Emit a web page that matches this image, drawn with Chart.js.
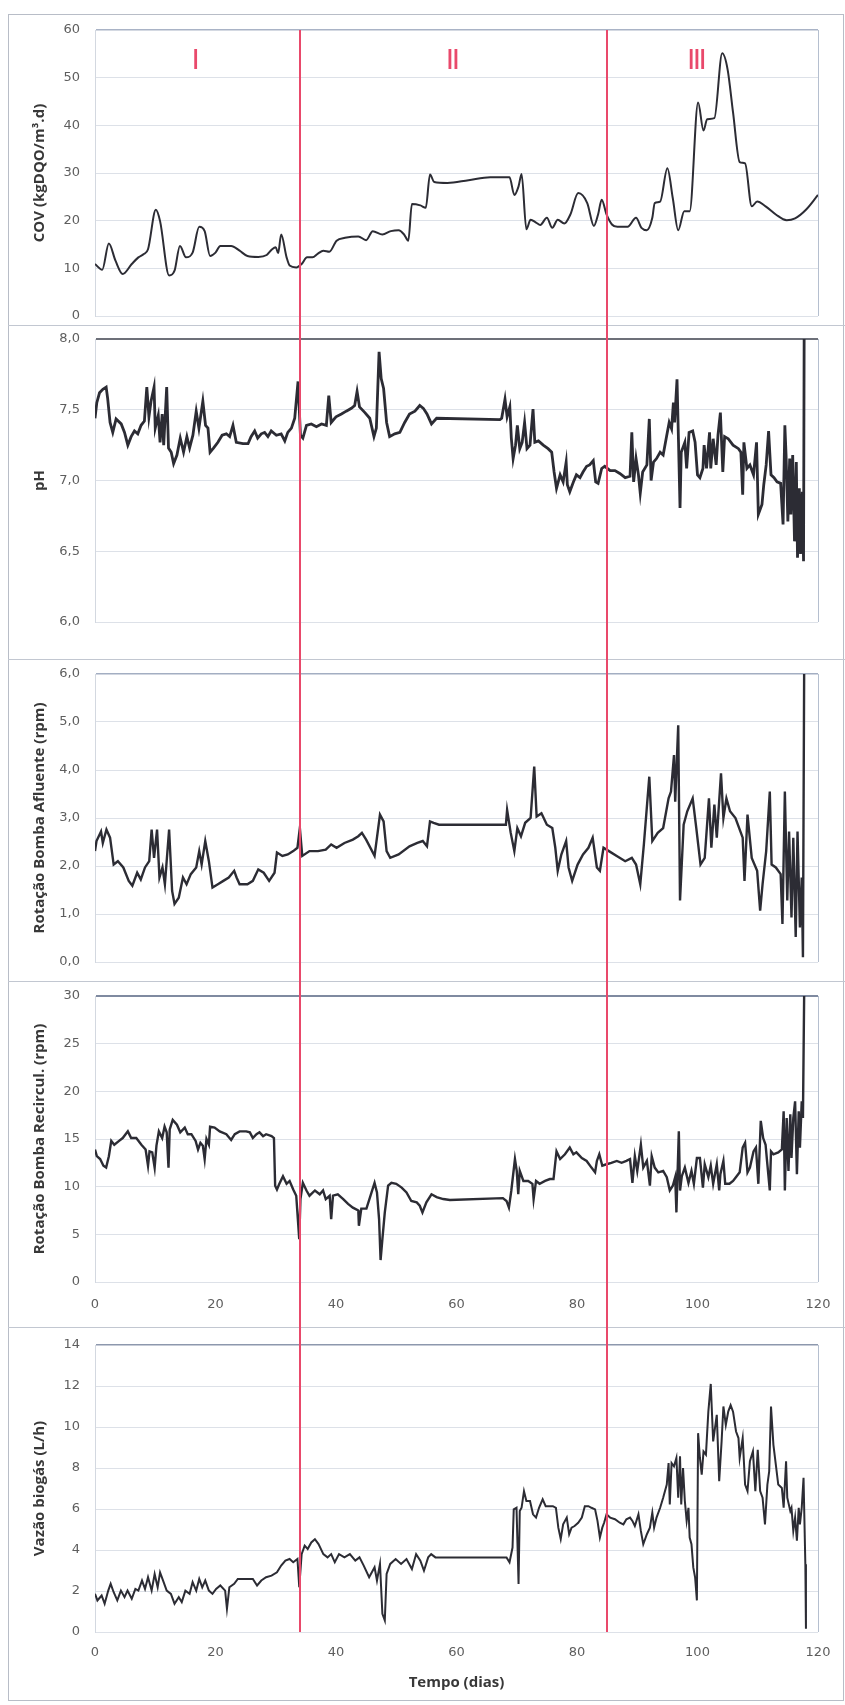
<!DOCTYPE html>
<html><head><meta charset="utf-8">
<script src="https://cdn.jsdelivr.net/npm/chart.js@4.4.0/dist/chart.umd.min.js"></script>
<style>
html,body{margin:0;padding:0;background:#fff;width:845px;height:1705px;overflow:hidden;}
#frame{position:absolute;left:8px;top:14px;width:836px;height:1687px;border:1px solid #b8bdc7;box-sizing:border-box;z-index:0;}
.sep{position:absolute;left:8px;width:837px;height:0;border-top:1px solid #c2c7d1;z-index:0;}
canvas{position:absolute;left:0;z-index:1;}
</style></head><body>
<div id="frame"></div>
<div class="sep" style="top:325px"></div>
<div class="sep" style="top:659px"></div>
<div class="sep" style="top:981px"></div>
<div class="sep" style="top:1327px"></div>
<canvas id="c1" width="845" height="310" style="top:15px"></canvas>
<canvas id="c2" width="845" height="334" style="top:325px"></canvas>
<canvas id="c3" width="845" height="322" style="top:659px"></canvas>
<canvas id="c4" width="845" height="346" style="top:981px"></canvas>
<canvas id="c5" width="845" height="378" style="top:1327px"></canvas>
<script>
// ---------- DATA ----------
const xTickLabels = ['0','20','40','60','80','100','120'];
const phaseBounds = [34, 85];
const phaseNames = ['I','II','III'];
const phaseNameDays = [16.5, 59.2, 99.7];

const covTickLabels = ['0','10','20','30','40','50','60'];
const covDays = [0,1.2,2.3,3.4,4.6,6.1,7.2,8.1,8.8,10.1,10.8,12.3,13.2,14.1,15.1,16.2,17.3,18.2,19.1,20,20.8,22.6,24,25.3,27.1,28.5,29.4,30,30.4,30.9,31.8,32.3,33.4,34.3,35.2,36.1,37,37.9,38.9,40.1,41.5,43.7,45,46.1,47.7,49.1,50.4,51.3,52,52.6,54,54.9,55.6,56.3,58.5,62,65.6,68.8,69.6,70.3,70.8,71.6,72.3,73.2,73.9,75,75.9,76.8,77.9,78.9,80.2,81.7,82.8,83.5,84.1,84.9,85.8,86.7,88.4,89.8,90.7,91.6,92.5,92.9,93.8,95,95.9,96.8,97.8,98.7,100.1,101,101.6,102.8,104.1,105,105.9,107,107.9,109,109.9,111.3,113,114.8,116.2,118,120];
const covVals = [10.9,9.7,15.2,11.6,8.8,10.9,12.3,13,14,22.3,19.9,8.5,9.5,14.7,12.3,13.3,18.7,17.8,12.6,13.3,14.7,14.7,13.7,12.6,12.4,12.8,14,14.4,13.2,17.1,12.3,10.6,10.2,10.9,12.3,12.3,13.1,13.7,13.5,15.8,16.4,16.7,15.9,17.8,17.1,17.8,18,17.1,15.8,23.5,23.2,22.7,29.7,28.1,27.9,28.5,29.1,29.1,25.4,27.2,29.8,18.2,20.2,19.6,19.1,20.6,18.5,20.2,19.4,21.3,25.8,23.7,18.9,21.3,24.4,21.3,19.2,18.7,18.7,20.6,18.5,18,20.6,23.7,24,31,24.7,18,22,22,44.8,38.9,41.3,41.5,55.1,51.7,42.7,32.3,32,23,24,23,21.3,20.1,20.5,22.3,25.4];

const phTickLabels = ['6,0','6,5','7,0','7,5','8,0'];
const phDays = [0,0.3,0.75,1.3,1.85,2.1,2.5,2.95,3.5,4.35,4.9,5.45,6,6.55,7.1,7.65,8.2,8.6,8.95,9.3,9.8,10,10.5,10.8,11.15,11.4,11.9,12.2,12.65,13.05,13.6,14.15,14.7,15.25,15.7,16.25,16.8,17.25,17.9,18.35,18.75,19.1,19.7,20.4,21.1,21.8,22.35,22.9,23.45,24.55,25.4,25.9,26.5,27,27.6,28.15,28.7,29.25,30.1,30.9,31.5,32,32.6,33.15,33.7,34.1,34.5,35.1,35.9,36.75,37.6,38.4,38.8,39.2,40,40.9,41.7,42.55,43.1,43.5,43.9,44.8,45.6,46.3,46.7,47.15,47.5,47.9,48.4,48.9,49.75,50.6,51.4,52.2,53.1,53.9,54.5,55.1,55.85,56.7,67.2,67.5,68.05,68.4,68.85,69.1,69.4,69.8,70.1,70.5,70.9,71.3,71.7,72.2,72.7,73,73.6,74.4,75.2,75.8,76.2,76.6,77.2,77.7,78.2,78.4,78.8,79.4,79.9,80.5,81,81.6,82.1,82.7,83.1,83.5,84.1,84.6,85.5,86.3,87.1,88,88.8,89.1,89.4,89.8,90.2,90.5,90.9,91.6,92,92.3,92.7,93.2,93.8,94.3,94.9,95.3,95.7,96,96.2,96.6,96.85,97.1,97.3,97.9,98.2,98.6,99.2,99.6,100,100.4,100.9,101.1,101.5,102,102.2,102.6,103.1,103.4,103.8,104.2,104.5,105.1,105.9,106.8,107.2,107.5,107.7,108.2,108.7,109.3,109.8,110.1,110.7,111,111.4,111.8,112.2,112.7,113.2,113.8,114.2,114.5,114.7,115,115.3,115.5,115.8,116.1,116.4,116.6,116.9,117.1,117.4,117.6,117.7];
const phVals = [7.44,7.55,7.62,7.645,7.66,7.58,7.41,7.34,7.435,7.40,7.34,7.25,7.31,7.35,7.33,7.39,7.42,7.66,7.45,7.56,7.66,7.37,7.46,7.27,7.47,7.25,7.66,7.23,7.20,7.12,7.18,7.30,7.20,7.31,7.23,7.32,7.49,7.37,7.56,7.39,7.37,7.20,7.23,7.27,7.32,7.33,7.31,7.39,7.27,7.26,7.26,7.31,7.35,7.30,7.33,7.34,7.31,7.35,7.32,7.33,7.28,7.34,7.37,7.44,7.70,7.32,7.30,7.39,7.40,7.38,7.40,7.39,7.60,7.41,7.45,7.47,7.49,7.51,7.53,7.63,7.52,7.48,7.44,7.31,7.37,7.91,7.72,7.65,7.41,7.31,7.33,7.34,7.41,7.47,7.49,7.53,7.51,7.47,7.40,7.44,7.43,7.44,7.575,7.45,7.52,7.30,7.155,7.25,7.39,7.225,7.27,7.41,7.225,7.25,7.505,7.27,7.28,7.25,7.225,7.20,7.06,6.945,7.04,6.99,7.13,6.97,6.92,6.99,7.04,7.02,7.06,7.10,7.11,7.14,6.99,6.98,7.085,7.10,7.07,7.07,7.05,7.02,7.03,7.34,6.99,7.155,7.04,6.91,7.06,7.11,7.435,7.00,7.13,7.155,7.20,7.18,7.32,7.41,7.365,7.55,7.41,7.715,7.27,6.805,7.20,7.27,7.085,7.34,7.35,7.27,7.04,7.02,7.085,7.25,7.085,7.34,7.085,7.295,7.11,7.32,7.48,7.06,7.31,7.295,7.25,7.225,7.20,6.90,7.27,7.085,7.11,7.04,7.27,6.76,6.83,6.97,7.11,7.35,7.04,7.02,6.99,6.98,6.69,7.39,7.18,6.71,7.155,6.76,7.18,6.57,7.13,6.455,6.945,6.48,6.92,6.43,8.0];

const aflTickLabels = ['0,0','1,0','2,0','3,0','4,0','5,0','6,0'];
const aflDays = [0,0.25,1,1.3,1.9,2.5,3.1,3.8,4.7,5.6,6.2,7,7.6,8.3,9,9.4,9.8,10.3,10.7,11.2,11.6,12.3,12.8,13.2,13.9,14.6,15.2,15.9,16.8,17.3,17.7,18.3,18.9,19.5,20.4,21.3,22.2,23.1,23.5,24,25.3,26.2,27.1,28,28.9,29.8,30.2,31.1,32,32.9,33.6,34,34.4,35.6,37,38.3,39.2,40.1,41.4,42.8,43.7,44.3,45,46.4,47.3,47.9,48.4,49,50.4,52.2,53.5,54.4,55.1,55.6,56.2,57.1,67.8,68.2,68.4,69,69.6,70.1,70.7,71.4,72.3,72.9,73.3,74.1,75,75.9,76.4,76.8,77.4,78.2,78.6,79.2,80.1,81,81.9,82.6,83.3,83.8,84.4,85.3,86.6,88,89.1,89.8,90.5,91.1,92,92.5,93.4,94.3,95.2,95.6,96.1,96.3,96.8,97.1,97.7,98.3,99.2,99.8,100.5,101.2,101.9,102.3,102.8,103.2,103.9,104.3,104.8,105.4,106.3,107.5,107.8,108.3,109,109.9,110.4,110.8,111.4,112,112.3,113,113.8,114.1,114.5,114.9,115.2,115.6,115.9,116.3,116.6,117,117.3,117.5,117.7];
const aflVals = [2.31,2.52,2.72,2.48,2.76,2.59,2.03,2.1,1.97,1.69,1.59,1.86,1.72,1.97,2.1,2.76,2.17,2.76,1.76,1.97,1.62,2.76,1.48,1.21,1.34,1.76,1.62,1.83,1.97,2.31,2.03,2.52,2.1,1.55,1.62,1.69,1.76,1.9,1.76,1.62,1.62,1.69,1.93,1.86,1.69,1.86,2.28,2.21,2.24,2.31,2.38,2.79,2.21,2.31,2.31,2.34,2.45,2.38,2.48,2.55,2.62,2.69,2.55,2.21,3.07,2.93,2.31,2.17,2.24,2.41,2.48,2.52,2.41,2.93,2.9,2.86,2.86,2.86,3.17,2.69,2.31,2.79,2.62,2.9,3.0,4.07,3.03,3.1,2.86,2.79,2.38,1.9,2.24,2.52,1.97,1.69,2.03,2.24,2.38,2.59,1.97,1.9,2.38,2.31,2.21,2.1,2.17,2.03,1.62,2.45,3.86,2.52,2.69,2.79,3.41,3.55,4.31,3.34,4.93,1.28,2.86,3.14,3.41,2.79,2.03,2.17,3.41,2.38,3.28,2.59,3.93,3.0,3.41,3.14,3.0,2.59,1.69,3.07,2.17,1.9,1.07,1.62,2.31,3.55,2.03,1.97,1.83,0.79,3.55,1.28,2.72,0.93,2.59,0.52,2.72,0.72,1.76,0.1,6.0];

const recTickLabels = ['0','5','10','15','20','25','30'];
const recDays = [0,0.3,0.85,1.4,1.85,2.3,2.7,3.2,4,4.6,5.45,6,6.85,7.7,8.4,8.8,9.05,9.5,9.9,10.2,10.6,11.15,11.55,11.9,12.2,12.4,12.9,13.6,14.15,14.9,15.4,16,16.7,17.1,17.5,17.9,18.2,18.5,18.9,19.1,19.85,20.7,21.8,22.6,23.2,24,25.1,25.7,26.2,26.8,27.3,27.9,28.4,29.3,29.7,29.9,30.2,30.6,31.2,31.8,32.3,32.9,33.4,33.9,34.1,34.5,35.1,35.6,36.5,37.3,37.85,38.3,38.95,39.2,39.5,40.3,41.2,42,42.8,43.7,43.8,44.2,45.05,45.9,46.4,46.8,47.15,47.4,47.7,48.1,48.65,49.2,50,50.9,51.7,52.5,53.4,53.9,54.35,55,55.85,56.7,57.8,58.9,67.7,68.3,68.7,69.1,69.7,70,70.25,70.5,71.1,71.9,72.6,72.8,73.2,73.8,74.7,75.5,76.1,76.6,77.2,78,78.8,79.4,79.9,80.8,81.6,82.4,83,83.3,83.7,84.2,84.9,85.7,86.6,87.4,88.2,88.8,89.2,89.6,90,90.6,91,91.6,92.1,92.4,92.9,93.5,94.3,94.9,95.4,95.9,96.3,96.5,96.9,97.1,97.4,97.9,98.5,99,99.4,99.9,100.4,100.9,101.2,101.8,102.2,102.6,103.2,103.6,103.8,104.3,104.6,105.3,105.9,106.5,107,107.5,107.9,108.3,108.7,109.3,109.7,110.1,110.5,110.9,111.3,111.5,112,112.2,112.6,113.4,114,114.3,114.5,114.8,115.1,115.4,115.6,115.9,116.2,116.5,116.8,117,117.3,117.5,117.7];
const recVals = [13.9,13.2,12.9,12.2,12.0,13.2,14.8,14.4,14.8,15.1,15.8,15.1,15.1,14.4,13.9,12.2,13.7,13.6,12.0,14.3,15.8,15.1,16.3,15.7,12.0,16.0,17.0,16.5,15.7,16.2,15.5,15.5,14.8,13.9,14.6,14.3,12.9,15.0,14.4,16.3,16.2,15.8,15.5,14.9,15.5,15.8,15.8,15.7,15.1,15.5,15.7,15.3,15.5,15.3,15.1,10.1,9.7,10.3,11.1,10.3,10.6,9.7,9.05,4.5,8.7,10.4,9.6,9.05,9.6,9.2,9.6,8.7,9.05,6.6,9.05,9.2,8.7,8.2,7.8,7.5,5.9,7.7,7.7,9.4,10.4,9.4,6.6,2.3,4.5,7.3,10.1,10.4,10.3,9.9,9.4,8.5,8.35,8.0,7.3,8.35,9.2,8.9,8.7,8.6,8.8,8.5,7.8,9.6,12.9,11.65,9.2,11.65,10.6,10.6,10.3,8.7,10.6,10.3,10.6,10.8,10.8,13.7,12.9,13.4,14.1,13.4,13.6,13.0,12.7,12.0,11.5,12.7,13.4,12.2,12.35,12.5,12.7,12.5,12.7,12.9,10.4,13.2,11.65,14.4,12.0,12.7,10.1,13.2,12.0,11.5,11.65,11.0,9.6,10.1,11.0,7.3,15.8,9.6,11.1,12.0,10.4,11.65,10.3,13.0,13.0,9.9,12.35,11.0,12.2,10.3,12.35,9.6,11.3,12.7,10.3,10.3,10.6,11.1,11.5,14.1,14.6,11.5,12.0,13.7,14.1,10.3,16.9,15.1,14.4,13.0,9.6,13.7,13.4,13.6,13.9,17.9,9.6,17.2,11.65,17.6,13.0,17.2,18.95,11.3,17.9,14.1,18.95,17.2,30];

const bioTickLabels = ['0','2','4','6','8','10','12','14'];
const bioDays = [0,0.4,1.1,1.6,2.2,2.6,3.1,3.7,4.3,4.9,5.4,6.1,6.7,7.2,7.8,8.3,8.8,9.4,9.9,10.4,10.8,11.3,11.9,12.6,13.2,13.9,14.4,15,15.7,16.2,16.8,17.3,17.8,18.3,18.9,19.5,20.1,20.8,21.6,21.9,22.3,23.1,23.7,24.9,26.2,26.9,27.6,28.4,29.3,30.2,30.9,31.6,32.3,32.9,33.6,33.9,34.3,34.8,35.3,35.9,36.5,37.1,37.9,38.6,39.2,39.8,40.5,41.4,42.3,43.2,43.9,44.6,45.5,46.4,46.8,47.3,47.7,48.1,48.4,49,49.9,50.8,51.7,52.6,53.3,54,54.6,55.3,55.8,56.5,68.3,68.8,69.3,69.5,69.96,70.3,70.5,70.8,71.2,71.6,72.2,72.7,73.2,73.7,74.3,74.8,75.5,76,76.5,76.9,77.3,77.7,78.3,78.7,79.1,79.6,80.2,80.8,81.3,81.9,82.4,83,83.4,83.8,84.2,84.5,84.9,85.5,86.3,87.1,87.7,88.2,88.8,89.2,89.6,90.2,90.6,91,91.6,92.1,92.5,92.8,93.2,93.8,94.3,94.9,95.2,95.4,95.7,96.1,96.5,96.8,97.1,97.3,97.6,97.9,98.2,98.5,98.7,99,99.3,99.6,99.9,100.1,100.4,100.7,101,101.4,101.8,102.2,102.6,103.2,103.6,104,104.3,104.7,105.1,105.5,105.9,106.4,106.8,107,107.5,107.9,108.3,108.7,109.2,109.6,110,110.4,110.8,111.2,111.6,111.9,112.2,112.6,113,113.4,114,114.3,114.7,114.9,115.4,115.6,115.9,116.2,116.5,116.8,117,117.3,117.6,117.9,118];
const bioVals = [1.86,1.54,1.78,1.38,2.02,2.35,1.94,1.54,2.02,1.7,2.02,1.62,2.1,2.02,2.51,2.1,2.67,2.02,2.83,2.18,2.91,2.51,2.02,1.86,1.38,1.7,1.46,2.02,1.86,2.43,2.02,2.59,2.18,2.51,2.02,1.86,2.1,2.27,2.02,1.13,2.18,2.35,2.59,2.59,2.59,2.27,2.51,2.67,2.75,2.91,3.24,3.48,3.56,3.4,3.56,2.18,3.8,4.21,4.05,4.37,4.53,4.29,3.8,3.64,3.8,3.4,3.8,3.64,3.8,3.48,3.64,3.24,2.67,3.16,2.51,3.32,0.89,0.57,2.83,3.32,3.56,3.32,3.56,3.07,3.8,3.48,2.99,3.64,3.8,3.64,3.64,3.4,4.12,5.98,6.06,2.34,5.9,6.06,6.87,6.39,6.39,5.74,5.58,6.06,6.47,6.14,6.14,6.14,6.06,5.09,4.53,5.25,5.58,4.77,5.09,5.17,5.33,5.58,6.14,6.14,6.06,5.98,5.42,4.61,5.09,5.33,5.74,5.58,5.5,5.33,5.25,5.5,5.58,5.42,5.17,5.74,4.93,4.28,4.77,5.09,5.82,5.09,5.58,6.06,6.55,7.19,8.24,6.22,8.24,8.08,8.49,6.55,8.57,6.22,8.0,6.39,5.42,6.06,4.61,4.28,3.15,2.67,1.54,9.7,8.49,7.68,8.81,8.65,10.75,12.1,9.3,10.59,7.36,9.3,11.0,10.1,10.75,11.07,10.75,9.78,9.46,8.49,9.46,7.19,6.87,8.33,8.81,6.87,8.89,6.87,6.55,5.25,7.19,7.84,11.0,9.13,8.16,7.19,7.03,6.06,8.33,6.55,5.9,6.06,4.93,5.58,4.45,6.06,5.25,6.06,7.52,3.31,0.16];

// ---------- STYLE ----------
const LINE = '#2c2c34';
const PHASE = '#e9496b';
const GRID = '#dde1e8';
const TICK_FONT = {family:'DejaVu Sans', size:13};
const TICK_COLOR = '#5e5e5e';
const TITLE_FONT = {family:'Open Sans', size:15, weight:'bold'};
const TITLE_COLOR = '#383838';
const CLEAR = 'rgba(0,0,0,0)';

const pts = (d, v) => d.map((x, i) => ({x, y: v[i]}));

const phasePlugin = {
  id: 'phases',
  afterDatasetsDraw(chart, args, o) {
    const {ctx, chartArea, scales} = chart;
    const x = scales.x, y = scales.y;
    const top = o.first ? chartArea.top : 0;
    const bottom = o.last ? chartArea.bottom : chart.height;
    ctx.save();
    ctx.strokeStyle = PHASE; ctx.lineWidth = 2;
    phaseBounds.forEach(d => {
      const px = Math.round(x.getPixelForValue(d));
      ctx.beginPath(); ctx.moveTo(px, top); ctx.lineTo(px, bottom); ctx.stroke();
    });
    if (o.names) {
      ctx.fillStyle = PHASE;
      ctx.font = '30px "Liberation Sans"';
      ctx.letterSpacing = '-2.5px';
      ctx.textAlign = 'center'; ctx.textBaseline = 'middle';
      phaseNames.forEach((n, i) => ctx.fillText(n, x.getPixelForValue(phaseNameDays[i]), y.getPixelForValue(53.6)));
    }
    ctx.restore();
  }
};

function makeChart(id, cfg) {
  const tickLabels = cfg.tickLabels;
  new Chart(document.getElementById(id), {
    type: 'line',
    data: { datasets: [{
      data: pts(cfg.days, cfg.vals),
      borderColor: LINE, borderWidth: cfg.lw || 2,
      pointRadius: 0, fill: false,
      tension: cfg.smooth ? 0.4 : 0,
      cubicInterpolationMode: cfg.smooth ? 'monotone' : 'default'
    }]},
    plugins: [phasePlugin],
    options: {
      responsive: false, animation: false, events: [],
      layout: { autoPadding: false, padding: {left: 0, right: 27, top: cfg.padTop, bottom: cfg.padBottom} },
      plugins: { legend: {display: false}, tooltip: {enabled: false},
        phases: {first: cfg.first, last: cfg.last, names: cfg.names} },
      scales: {
        x: {
          type: 'linear', min: 0, max: 120,
          afterFit: s => { s.height = cfg.xHeight; },
          ticks: { display: cfg.xTicks, stepSize: 20, maxRotation: 0, padding: 0, font: TICK_FONT, color: TICK_COLOR,
                   callback: (v, i) => xTickLabels[i] },
          grid: { drawTicks: true, tickLength: cfg.xTickGap || 13, tickColor: CLEAR,
                  color: c => (c.tick && c.tick.value === 120) ? '#b5bfcf' : CLEAR, lineWidth: 1 },
          border: { display: false },
          title: { display: !!cfg.xTitle, text: cfg.xTitle || '', font: TITLE_FONT, color: TITLE_COLOR, padding: {top: 0, bottom: 13} }
        },
        y: {
          min: cfg.min, max: cfg.max,
          afterFit: s => { s.width = 95; },
          ticks: { stepSize: cfg.step, padding: 0, font: TICK_FONT, color: TICK_COLOR,
                   callback: (v, i) => tickLabels[i] },
          grid: { drawTicks: true, tickLength: 15, tickColor: CLEAR,
                  color: c => (c.tick && Math.abs(c.tick.value - cfg.max) < 1e-9) ? cfg.topColor : GRID,
                  lineWidth: c => (c.tick && Math.abs(c.tick.value - cfg.max) < 1e-9) ? cfg.topWidth : 1 },
          border: { display: true, color: '#d3d8e0', width: 1 },
          title: { display: true, text: cfg.title, font: TITLE_FONT, color: TITLE_COLOR, padding: {top: 31, bottom: 0} }
        }
      }
    }
  });
}

makeChart('c1', {days: covDays, vals: covVals, tickLabels: covTickLabels, min: 0, max: 60, step: 10,
  title: 'COV (kgDQO/m³.d)', smooth: true, padTop: 15, padBottom: 9, xHeight: 0, xTicks: false,
  topColor: '#a9b3c6', topWidth: 1.5, first: true, last: false, names: true});
makeChart('c2', {days: phDays, vals: phVals, tickLabels: phTickLabels, min: 6, max: 8, step: 0.5,
  title: 'pH', lw: 2.8, padTop: 14, padBottom: 37, xHeight: 0, xTicks: false,
  topColor: '#6d7079', topWidth: 2, first: false, last: false});
makeChart('c3', {days: aflDays, vals: aflVals, tickLabels: aflTickLabels, min: 0, max: 6, step: 1,
  title: 'Rotação Bomba Afluente (rpm)', lw: 2.4, padTop: 15, padBottom: 19, xHeight: 0, xTicks: false,
  topColor: '#a3aec2', topWidth: 1.5, first: false, last: false});
makeChart('c4', {days: recDays, vals: recVals, tickLabels: recTickLabels, min: 0, max: 30, step: 5,
  title: 'Rotação Bomba Recircul. (rpm)', lw: 2.4, padTop: 15, padBottom: 0, xHeight: 45, xTicks: true, xTickGap: 15,
  topColor: '#7f8aa0', topWidth: 2, first: false, last: false});
makeChart('c5', {days: bioDays, vals: bioVals, tickLabels: bioTickLabels, min: 0, max: 14, step: 2,
  title: 'Vazão biogás (L/h)', lw: 2, padTop: 18, padBottom: 0, xHeight: 73, xTicks: true, xTitle: 'Tempo (dias)',
  topColor: '#8d98ad', topWidth: 1.5, first: false, last: true});
</script>
</body></html>
